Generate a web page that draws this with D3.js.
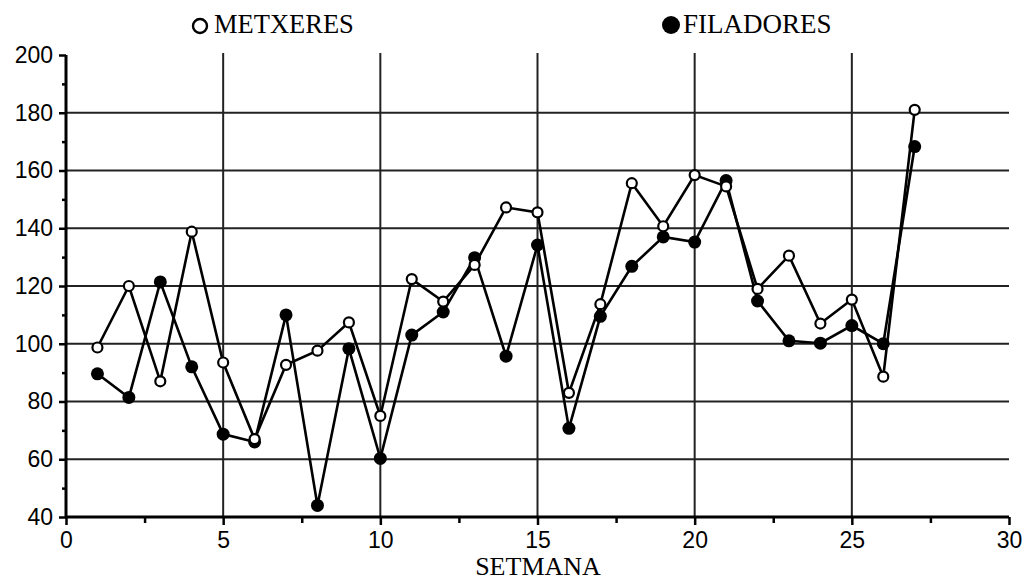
<!DOCTYPE html>
<html>
<head>
<meta charset="utf-8">
<script src="https://cdn.jsdelivr.net/npm/d3@7"></script>
<style>
  body { margin: 0; background: #fff; }
  svg { display: block; }
</style>
</head>
<body>
<svg id="chart" width="1024" height="580"></svg>
<script>
// week numbers
const weeks = [1, 2, 3, 4, 5, 6, 7, 8, 9, 10, 11, 12, 13, 14, 15, 16, 17, 18, 19, 20, 21, 22, 23, 24, 25, 26, 27];
// METXERES (open circles)
const metxeres = [98.7, 120, 87, 138.8, 93.5, 67, 92.7, 97.6, 107.4, 75,
  122.4, 114.6, 127.3, 147.2, 145.5, 83, 113.7, 155.6, 140.7, 158.4,
  154.5, 119, 130.5, 107, 115.3, 88.6, 181];
// FILADORES (filled circles)
const filadores = [89.6, 81.4, 121.4, 92, 68.7, 66, 110, 44, 98.3, 60.3,
  103, 111, 129.8, 95.7, 134.2, 70.7, 109.5, 126.8, 137, 135.2,
  156.5, 114.8, 101, 100.2, 106.3, 100, 168.3];
const xTicks = [0, 5, 10, 15, 20, 25, 30];
const yTicks = [40, 60, 80, 100, 120, 140, 160, 180, 200];
const legendNames = ['METXERES', 'FILADORES'];
const xTitle = 'SETMANA';

const svg = d3.select('#chart');
const sans = 'Liberation Sans, Arial, sans-serif';
const serif = 'Liberation Serif, Times New Roman, serif';

const x = d3.scaleLinear().domain([0, 30]).range([66, 1009]);
const y = d3.scaleLinear().domain([40, 200]).range([517, 55]);

// grid
svg.append('g')
  .selectAll('line')
  .data(xTicks.filter(d => d > 0 && d < 30))
  .enter().append('line')
  .attr('x1', d => x(d)).attr('x2', d => x(d))
  .attr('y1', y(200) - 2).attr('y2', y(40))
  .attr('stroke', '#222').attr('stroke-width', 2);

svg.append('g')
  .selectAll('line')
  .data(yTicks.filter(d => d > 40 && d < 200))
  .enter().append('line')
  .attr('x1', x(0)).attr('x2', x(30))
  .attr('y1', d => y(d)).attr('y2', d => y(d))
  .attr('stroke', '#222').attr('stroke-width', 2);

// axes
const xAxis = d3.axisBottom(x).tickValues(xTicks).tickSize(8).tickPadding(7);
const gx = svg.append('g').attr('transform', `translate(0,${y(40)})`).call(xAxis);
gx.select('.domain').attr('stroke-width', 3).attr('d', `M${x(0)},0H${x(30)}`);
gx.selectAll('.tick line').attr('stroke-width', 2.5);
gx.selectAll('.tick text').style('font-family', sans).style('font-size', '23px').attr('fill', '#000');

const xMinor = d3.axisBottom(x).tickValues(d3.range(2.5, 30, 5)).tickSize(6).tickFormat('');
const gxm = svg.append('g').attr('transform', `translate(0,${y(40)})`).call(xMinor);
gxm.select('.domain').remove();
gxm.selectAll('.tick line').attr('stroke-width', 2.5);

const yAxis = d3.axisLeft(y).tickValues(yTicks).tickSize(7).tickPadding(6);
const gy = svg.append('g').attr('transform', `translate(${x(0)},0)`).call(yAxis);
gy.select('.domain').attr('stroke-width', 3).attr('d', `M0,${y(200)}V${y(40)}`);
gy.selectAll('.tick line').attr('stroke-width', 2.5);
gy.selectAll('.tick text').style('font-family', sans).style('font-size', '23px').attr('fill', '#000');

const yMinor = d3.axisLeft(y).tickValues(d3.range(50, 200, 20)).tickSize(4).tickFormat('');
const gym = svg.append('g').attr('transform', `translate(${x(0)},0)`).call(yMinor);
gym.select('.domain').remove();
gym.selectAll('.tick line').attr('stroke-width', 2.5);

// series
const line = d3.line().x((d, i) => x(weeks[i])).y(d => y(d));

svg.append('path').datum(filadores).attr('d', line)
  .attr('fill', 'none').attr('stroke', '#000').attr('stroke-width', 2.6);
svg.append('path').datum(metxeres).attr('d', line)
  .attr('fill', 'none').attr('stroke', '#000').attr('stroke-width', 2.6);

svg.append('g').selectAll('circle')
  .data(filadores).enter().append('circle')
  .attr('cx', (d, i) => x(weeks[i])).attr('cy', d => y(d))
  .attr('r', 6.5).attr('fill', '#000');

svg.append('g').selectAll('circle')
  .data(metxeres).enter().append('circle')
  .attr('cx', (d, i) => x(weeks[i])).attr('cy', d => y(d))
  .attr('r', 5).attr('fill', '#fff').attr('stroke', '#000').attr('stroke-width', 2.2);

// legend
svg.append('circle').attr('cx', 200).attr('cy', 26).attr('r', 7)
  .attr('fill', '#fff').attr('stroke', '#000').attr('stroke-width', 2.4);
svg.append('text').attr('x', 214).attr('y', 33).text(legendNames[0])
  .style('font-family', serif).style('font-size', '26.5px');
svg.append('circle').attr('cx', 671).attr('cy', 25).attr('r', 9).attr('fill', '#000');
svg.append('text').attr('x', 683).attr('y', 33).text(legendNames[1])
  .style('font-family', serif).style('font-size', '27px');

// x title
svg.append('text').attr('x', 538).attr('y', 575).attr('text-anchor', 'middle').text(xTitle)
  .style('font-family', serif).style('font-size', '26px');
</script>
</body>
</html>
